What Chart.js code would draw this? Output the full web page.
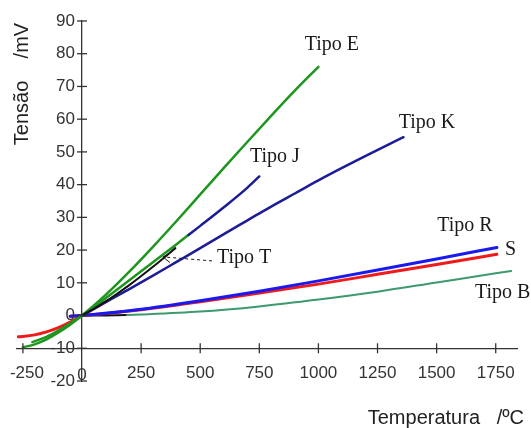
<!DOCTYPE html>
<html>
<head>
<meta charset="utf-8">
<script src="https://cdn.jsdelivr.net/npm/chart.js@4"></script>
<style>
  body { margin: 0; background: #fff; }
  #grafico { display: block; }
</style>
</head>
<body>
<canvas id="grafico" width="531" height="428"></canvas>
<script>
// === DATOS ===
const xTicks = [-250, 0, 250, 500, 750, 1000, 1250, 1500, 1750];
const yTicks = [-20, -10, 0, 10, 20, 30, 40, 50, 60, 70, 80, 90];

const tempE = [-250, -200, -150, -100, -50, 0, 100, 200, 300, 400, 500, 600, 700, 800, 900, 1000];
const mvE   = [-9.7, -8.8, -7.3, -5.2, -2.8, 0, 6.3, 13.4, 21.0, 28.9, 37.0, 45.1, 53.1, 61.0, 68.7, 76.0];

const tempJ = [-210, -150, -100, -50, 0, 100, 200, 300, 400, 450, 500, 600, 700, 750];
const mvJ   = [-8.1, -6.5, -4.6, -2.4, 0, 5.3, 10.8, 16.3, 21.8, 24.6, 27.4, 33.1, 39.1, 42.5];

const tempK = [0, 100, 200, 300, 400, 500, 600, 700, 800, 900, 1000, 1100, 1200, 1300, 1360];
const mvK   = [0, 4.1, 8.1, 12.2, 16.4, 20.6, 24.9, 29.1, 33.3, 37.3, 41.3, 45.1, 48.8, 52.4, 54.5];

const tempT = [0, 100, 200, 300, 395];
const mvT   = [0, 4.3, 9.3, 14.9, 20.6];

const tempR = [-50, 0, 250, 500, 750, 1000, 1250, 1500, 1755];
const mvR   = [-0.2, 0, 1.9, 4.5, 7.4, 10.6, 13.9, 17.3, 20.8];

const tempS = [-50, 0, 250, 500, 750, 1000, 1250, 1500, 1755];
const mvS   = [-0.2, 0, 1.8, 4.2, 6.9, 9.6, 12.6, 15.6, 18.7];

// tramo rojo a temperaturas negativas
const tempNeg = [-270, -250, -200, -150, -100, -50, 0, 50, 110];
const mvNeg   = [-6.5, -6.4, -5.9, -5.0, -3.7, -2.0, 0, 2.1, 4.6];

const tempB = [0, 100, 190, 250, 500, 750, 1000, 1250, 1500, 1750, 1815];
const mvB   = [0, 0.03, 0.15, 0.3, 1.2, 2.8, 4.9, 7.3, 10.1, 12.9, 13.6];

const verde = '#1e951e';
const marino = '#1c1c96';
const azul = '#1a1af0';
const rojo = '#f01a1a';
const verdeB = '#3c9a6c';

function puntos(xs, ys) {
  return xs.map((x, i) => ({ x, y: ys[i] }));
}

// === MARCAS, ETIQUETAS Y TÍTULOS ===
const etiquetas = {
  id: 'etiquetas',
  afterDraw(chart) {
    const ctx = chart.ctx;
    const sx = chart.scales.x, sy = chart.scales.y;
    const px = v => sx.getPixelForValue(v);
    const py = v => sy.getPixelForValue(v);
    const ejeY = py(-10), ejeX = px(0);

    ctx.save();
    // marcas que cruzan los ejes
    ctx.strokeStyle = '#333';
    ctx.lineWidth = 1.3;
    xTicks.forEach(v => {
      if (v === 0) return;
      ctx.beginPath();
      ctx.moveTo(px(v), ejeY - 5);
      ctx.lineTo(px(v), ejeY + 5);
      ctx.stroke();
    });
    yTicks.forEach(v => {
      ctx.beginPath();
      ctx.moveTo(ejeX - 5, py(v));
      ctx.lineTo(ejeX + 5, py(v));
      ctx.stroke();
    });

    // números de los ejes
    ctx.fillStyle = '#333';
    ctx.font = '17px "Liberation Sans", Arial, sans-serif';
    ctx.textBaseline = 'middle';
    ctx.textAlign = 'right';
    yTicks.forEach(v => ctx.fillText(String(v), ejeX - 7, py(v)));
    ctx.textAlign = 'center';
    xTicks.forEach(v => ctx.fillText(String(v), px(v) + (v < 0 ? 4 : 0), ejeY + (v === 0 ? 27 : 25)));

    // nombres de las curvas
    ctx.fillStyle = '#1a1a1a';
    ctx.font = '20px "Liberation Serif", "Times New Roman", serif';
    ctx.textAlign = 'center';
    ctx.fillText('Tipo E', px(1057), py(82.7));
    ctx.fillText('Tipo K', px(1459), py(58.8));
    ctx.fillText('Tipo J', px(816), py(48.4));
    ctx.fillText('Tipo R', px(1620), py(27.4));
    ctx.textAlign = 'left';
    ctx.fillText('Tipo T', px(571), py(17.6));
    ctx.fillText('S', px(1789), py(20.0));
    ctx.fillText('Tipo B', px(1662), py(6.9));

    // flecha de Tipo T
    ctx.strokeStyle = '#1a1a1a';
    ctx.lineWidth = 1;
    ctx.setLineDash([3, 3]);
    ctx.beginPath();
    ctx.moveTo(px(550), py(16.7));
    ctx.lineTo(px(345), py(17.9));
    ctx.stroke();
    ctx.setLineDash([]);
    ctx.beginPath();
    ctx.moveTo(px(375), py(19.3));
    ctx.lineTo(px(342), py(17.9));
    ctx.lineTo(px(372), py(16.2));
    ctx.stroke();

    // títulos de los ejes
    ctx.fillStyle = '#222';
    ctx.font = '20px "Liberation Sans", Arial, sans-serif';
    ctx.textAlign = 'right';
    ctx.textBaseline = 'middle';
    ctx.fillText('Temperatura   /ºC', 524, 418);
    ctx.translate(22, 84);
    ctx.rotate(-Math.PI / 2);
    ctx.textAlign = 'center';
    ctx.fillText('Tensão    /mV', 0, 0);
    ctx.restore();
  }
};

const ctx = document.getElementById('grafico').getContext('2d');
new Chart(ctx, {
  type: 'line',
  data: {
    datasets: [
      { label: 'Tipo T', data: puntos(tempT, mvT), borderColor: '#111', borderWidth: 2 },
      { label: 'Tipo E', data: puntos(tempE, mvE), borderColor: verde, borderWidth: 2.5 },
      {
        label: 'Tipo J', data: puntos(tempJ, mvJ), borderColor: marino, borderWidth: 2.5,
        segment: { borderColor: c => c.p0.parsed.x < 450 ? verde : marino }
      },
      { label: 'Tipo K', data: puntos(tempK, mvK), borderColor: marino, borderWidth: 2.5 },
      { label: 'Tipo R', data: puntos(tempR, mvR), borderColor: azul, borderWidth: 3 },
      { label: 'S', data: puntos(tempS, mvS), borderColor: rojo, borderWidth: 3 },
      { label: 'neg', data: puntos(tempNeg, mvNeg), borderColor: rojo, borderWidth: 3 },
      {
        label: 'Tipo B', data: puntos(tempB, mvB), borderColor: verdeB, borderWidth: 2,
        segment: { borderColor: c => c.p0.parsed.x < 190 ? '#111' : verdeB }
      }
    ]
  },
  options: {
    responsive: false,
    animation: false,
    events: [],
    elements: { point: { radius: 0 }, line: { cubicInterpolationMode: 'monotone', borderCapStyle: 'round' } },
    layout: { padding: { left: 17, top: 21, right: 14, bottom: 47 } },
    plugins: { legend: { display: false }, tooltip: { enabled: false } },
    scales: {
      x: {
        type: 'linear',
        min: -275,
        max: 1840,
        position: { y: -10 },
        grid: { display: false },
        border: { color: '#333', width: 1.3 },
        ticks: { display: false }
      },
      y: {
        type: 'linear',
        min: -20,
        max: 90,
        position: { x: 0 },
        grid: { display: false },
        border: { color: '#333', width: 1.3 },
        ticks: { display: false }
      }
    }
  },
  plugins: [etiquetas]
});
</script>
</body>
</html>
